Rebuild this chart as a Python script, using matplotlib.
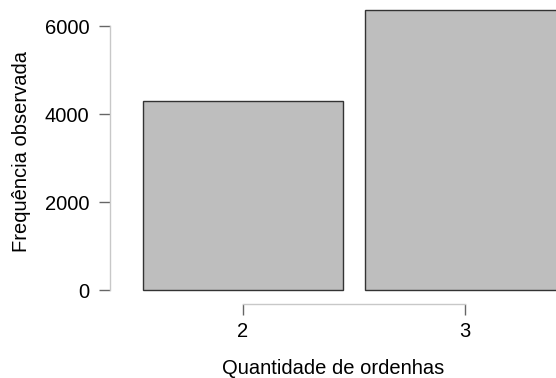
import matplotlib.pyplot as plt

plt.rcParams['font.family'] = ['Liberation Sans', 'DejaVu Sans']

categories = ['2', '3']
counts = [4295, 6365]

W, H = 556, 378
fig = plt.figure(figsize=(W / 100, H / 100), dpi=100)
# axes box in pixels: x 110..556, y 0..304 (from top)
ax = fig.add_axes([110 / W, (H - 304) / H, (W - 110) / W, 304 / H])

pos = [0, 1]
ax.bar(pos, counts, width=0.9, color='#bebebe', edgecolor='#333333', linewidth=1.0)

ax.set_xlim(-0.5986, 1.4095)
ax.set_ylim(-318, 6591)

for s in ['top', 'right']:
    ax.spines[s].set_visible(False)
ax.spines['left'].set_bounds(0, 6000)
ax.spines['bottom'].set_bounds(0, 1)
for s in ['left', 'bottom']:
    ax.spines[s].set_color('#c8c8c8')
    ax.spines[s].set_linewidth(1.0)

ax.set_yticks([0, 2000, 4000, 6000])
ax.set_xticks(pos)
ax.set_xticklabels(categories)
ax.tick_params(axis='both', length=8, width=1.0, color='#666666',
               labelsize=14.5, labelcolor='black')
ax.tick_params(axis='x', pad=5)
ax.tick_params(axis='y', pad=7)

ax.set_xlabel('Quantidade de ordenhas', fontsize=14.5, labelpad=13)
ax.set_ylabel('Frequência observada', fontsize=14.5, labelpad=10)

fig.savefig('out.png', dpi=100)
